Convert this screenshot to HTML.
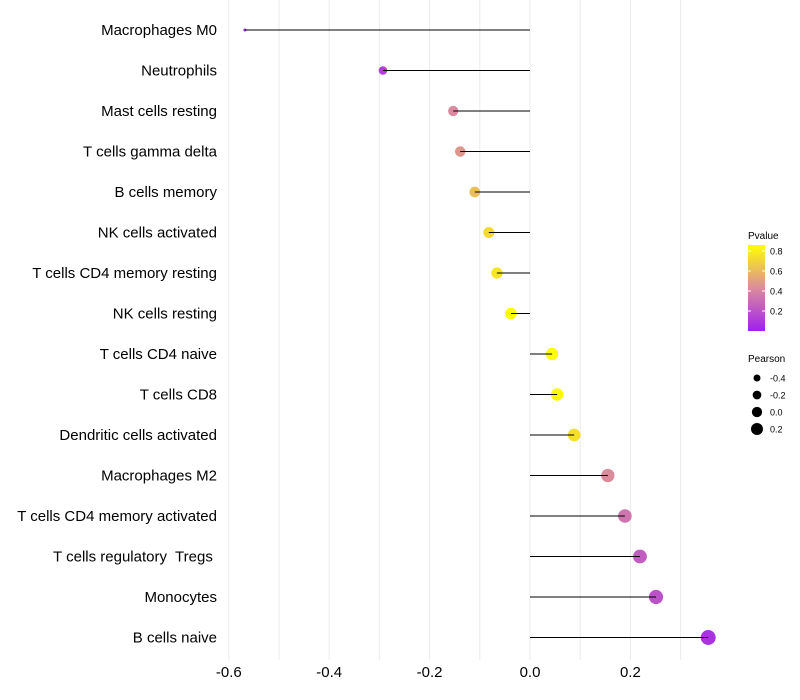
<!DOCTYPE html>
<html><head><meta charset="utf-8"><style>body{margin:0;background:#fff}svg{display:block;font-family:"Liberation Sans",sans-serif}</style></head>
<body>
<svg id="chart" width="800" height="700">
<defs><linearGradient id="pg" x1="0" y1="1" x2="0" y2="0">
<stop offset="0" stop-color="#A020F0"/><stop offset="0.5" stop-color="#DB8C9C"/><stop offset="1" stop-color="#FFFF00"/></linearGradient></defs>
<g id="grid"></g><g id="points"></g><g id="marks"></g><g id="labels"></g><g id="legend"></g>
</svg>
<script>
const categories=["Macrophages M0","Neutrophils","Mast cells resting","T cells gamma delta","B cells memory","NK cells activated","T cells CD4 memory resting","NK cells resting","T cells CD4 naive","T cells CD8","Dendritic cells activated","Macrophages M2","T cells CD4 memory activated","T cells regulatory  Tregs ","Monocytes","B cells naive"];
const pearson=[-0.568,-0.293,-0.153,-0.139,-0.110,-0.082,-0.066,-0.038,0.044,0.054,0.088,0.155,0.189,0.219,0.251,0.355];
const pvalue=[0.04,0.12,0.42,0.47,0.62,0.72,0.76,0.86,0.86,0.83,0.74,0.43,0.34,0.24,0.2,0.07];
const xTicks=[-0.6,-0.4,-0.2,0.0,0.2];
const xTickLabels=["-0.6","-0.4","-0.2","0.0","0.2"];
const pTicks=[0.2,0.4,0.6,0.8];
const sizeTicks=[-0.4,-0.2,0.0,0.2];
const NS="http://www.w3.org/2000/svg";
const x=v=>530+v*502;
const y=i=>30+i*40.5;
const rad=v=>Math.sqrt(Math.max(1,35.3+58.2*v));
const legRad=v=>3.5+(v+0.4)/0.6*2.5;
function lerp(a,b,t){return a.map((c,i)=>Math.round(c+(b[i]-c)*t));}
function col(p){const s=[[160,32,240],[219,140,156],[255,255,0]];let t=Math.max(0,Math.min(1,p/0.86));
const c=t<0.5?lerp(s[0],s[1],t*2):lerp(s[1],s[2],(t-0.5)*2);return `rgb(${c})`;}
function mk(t,a,parent){const e=document.createElementNS(NS,t);for(const k in a)e.setAttribute(k,a[k]);document.getElementById(parent).appendChild(e);return e;}
for(let k=-6;k<=3;k++){const v=k/10;const g=mk('line',{x1:x(v),x2:x(v),y1:0,y2:660,stroke:'#ebebeb','stroke-width':1},'grid');

}
xTicks.forEach((v,i)=>{const t=mk('text',{x:x(v),y:677,'text-anchor':'middle','font-size':15,fill:'#000'},'labels');t.textContent=xTickLabels[i];

});
categories.forEach((c,i)=>{
const t=mk('text',{x:217,y:y(i)+5,'text-anchor':'end','font-size':15,fill:'#000','xml:space':'preserve'},'labels');t.style.whiteSpace='pre';t.textContent=c;


const d=mk('circle',{cx:x(pearson[i]),cy:y(i),r:rad(pearson[i]),fill:col(pvalue[i])},'points');


const l=mk('line',{x1:x(0),x2:x(pearson[i]),y1:y(i),y2:y(i),stroke:'#000','stroke-width':1},'marks');

});
let t=mk('text',{x:748,y:239,'font-size':10},'legend');t.textContent='Pvalue';


const bar=mk('rect',{x:748,y:245,width:17,height:86,fill:'url(#pg)'},'legend');


const py=p=>331-p/0.86*86;
pTicks.forEach(p=>{const tt=mk('text',{x:770,y:py(p)+3.5,'font-size':9},'legend');tt.textContent=p.toFixed(1);


mk('line',{x1:748,x2:751,y1:py(p),y2:py(p),stroke:'#fff'},'legend');mk('line',{x1:762,x2:765,y1:py(p),y2:py(p),stroke:'#fff'},'legend');});
t=mk('text',{x:748,y:362,'font-size':10},'legend');t.textContent='Pearson';


sizeTicks.forEach((s,i)=>{const cy=378+i*17;mk('circle',{cx:757,cy:cy,r:legRad(s),fill:'#000'},'legend');
const tt=mk('text',{x:770,y:cy+3.5,'font-size':9},'legend');tt.textContent=s.toFixed(1);

});
</script>
</body></html>
